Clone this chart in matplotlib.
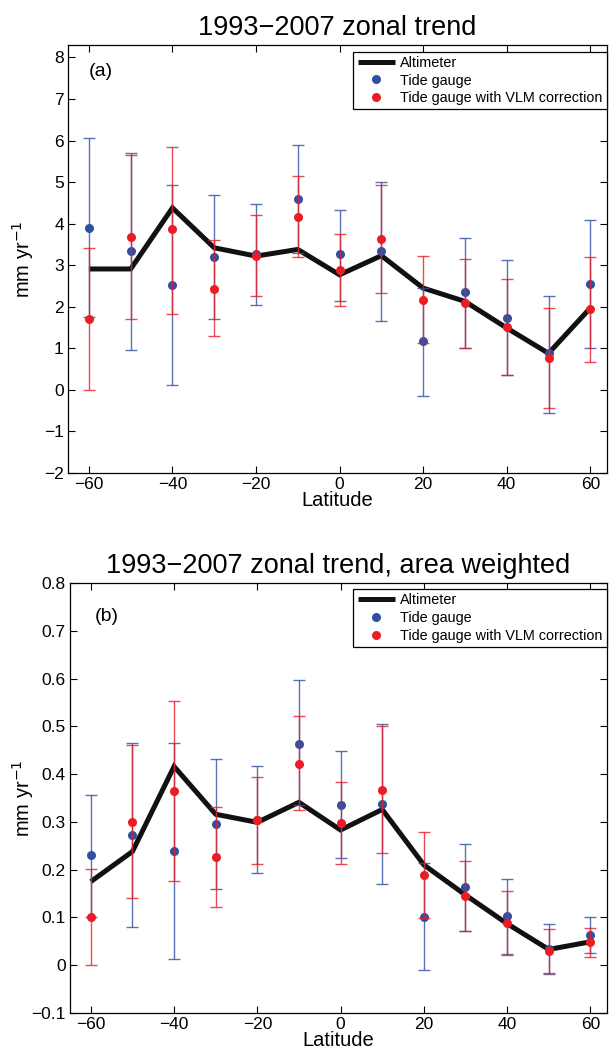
import matplotlib
matplotlib.use("Agg")
import matplotlib.pyplot as plt
from matplotlib.lines import Line2D
import numpy as np

plt.rcParams['font.family'] = ['Liberation Sans', 'DejaVu Sans']

lat = [-60, -50, -40, -30, -20, -10, 0, 10, 20, 30, 40, 50, 60]

# Panel (a): 1993-2007 zonal trend (mm/yr)
alt_a = [2.91, 2.91, 4.38, 3.42, 3.22, 3.38, 2.77, 3.23, 2.45, 2.13, 1.49, 0.88, 1.97]
tg_a = [3.90, 3.34, 2.52, 3.20, 3.27, 4.60, 3.26, 3.34, 1.17, 2.35, 1.74, 0.88, 2.56]
tg_a_hi = [6.06, 5.71, 4.93, 4.69, 4.48, 5.90, 4.34, 5.00, 2.45, 3.66, 3.12, 2.27, 4.08]
tg_a_lo = [1.75, 0.97, 0.12, 1.71, 2.05, 3.30, 2.15, 1.65, -0.14, 1.02, 0.36, -0.55, 1.02]
vlm_a = [1.70, 3.68, 3.86, 2.44, 3.23, 4.16, 2.88, 3.63, 2.17, 2.09, 1.51, 0.76, 1.95]
vlm_a_hi = [3.42, 5.65, 5.85, 3.60, 4.20, 5.15, 3.74, 4.94, 3.22, 3.16, 2.67, 1.97, 3.20]
vlm_a_lo = [0.00, 1.71, 1.83, 1.30, 2.25, 3.19, 2.03, 2.32, 1.13, 1.02, 0.35, -0.44, 0.68]

# Panel (b): area weighted
alt_b = [0.175, 0.238, 0.416, 0.316, 0.299, 0.341, 0.283, 0.326, 0.210, 0.147, 0.087, 0.033, 0.049]
tg_b = [0.231, 0.273, 0.240, 0.295, 0.305, 0.463, 0.335, 0.337, 0.101, 0.163, 0.103, 0.035, 0.063]
tg_b_hi = [0.356, 0.465, 0.466, 0.432, 0.418, 0.596, 0.449, 0.505, 0.214, 0.253, 0.180, 0.086, 0.100]
tg_b_lo = [0.101, 0.079, 0.014, 0.159, 0.194, 0.335, 0.224, 0.169, -0.009, 0.072, 0.023, -0.019, 0.026]
vlm_b = [0.101, 0.300, 0.365, 0.226, 0.303, 0.421, 0.298, 0.367, 0.189, 0.145, 0.089, 0.030, 0.049]
vlm_b_hi = [0.201, 0.460, 0.553, 0.331, 0.393, 0.521, 0.384, 0.501, 0.279, 0.219, 0.155, 0.075, 0.078]
vlm_b_lo = [0.001, 0.140, 0.176, 0.121, 0.212, 0.324, 0.211, 0.234, 0.099, 0.072, 0.022, -0.016, 0.017]

xticks = [-60, -40, -20, 0, 20, 40, 60]
yticks_a = [-2, -1, 0, 1, 2, 3, 4, 5, 6, 7, 8]
yticks_b = [-0.1, 0, 0.1, 0.2, 0.3, 0.4, 0.5, 0.6, 0.7, 0.8]
ytl_b = ['\u22120.1', '0', '0.1', '0.2', '0.3', '0.4', '0.5', '0.6', '0.7', '0.8']

BLUE = '#2f4fa2'
RED = '#ec1c24'

fig = plt.figure(figsize=(6.09, 10.48), dpi=100)
ax_a = fig.add_axes([68/609, 1-473/1048, 539/609, 428/1048])
ax_b = fig.add_axes([70/609, 1-1013/1048, 537/609, 430/1048])


def panel(ax, alt, tg, tg_hi, tg_lo, vlm, vlm_hi, vlm_lo, ylim, yticks, ytl, title,
          tag, tagpos, ylab_x, leg_top):
    x = np.array(lat, dtype=float)
    ax.plot(x, alt, color='#111111', lw=3.6, solid_joinstyle='miter',
            solid_capstyle='butt', zorder=2)
    tg = np.array(tg); vlm = np.array(vlm)
    ax.errorbar(x, tg, yerr=[tg - np.array(tg_lo), np.array(tg_hi) - tg], fmt='none',
                ecolor=BLUE, elinewidth=1.0, capsize=4.2, capthick=1.0, alpha=0.8, zorder=3)
    ax.plot(x, tg, 'o', color=BLUE, ms=6.5, mec='none', zorder=4)
    ax.errorbar(x, vlm, yerr=[vlm - np.array(vlm_lo), np.array(vlm_hi) - vlm], fmt='none',
                ecolor=RED, elinewidth=1.0, capsize=4.2, capthick=1.0, alpha=0.8, zorder=5)
    ax.plot(x, vlm, 'o', color=RED, ms=6.5, mec='none', zorder=6)
    ax.set_xlim(-65, 64)
    ax.set_ylim(*ylim)
    ax.set_xticks(xticks)
    ax.set_xticklabels([str(v).replace('-', '\u2212') for v in xticks])
    ax.set_yticks(yticks)
    ax.set_yticklabels(ytl)
    ax.tick_params(direction='in', top=True, right=True, length=5, width=0.8,
                   labelsize=12.5, pad=3)
    for s in ax.spines.values():
        s.set_linewidth(0.9)
    ax.set_xlabel('Latitude', fontsize=14.5, labelpad=-1)
    ax.set_ylabel('mm yr$^{-1}$', fontsize=14.5)
    ax.yaxis.set_label_coords(ylab_x, 0.5)
    ax.set_title(title, fontsize=19.5, pad=7)
    ax.text(tagpos[0], tagpos[1], tag, transform=ax.transAxes, fontsize=14,
            ha='left', va='center')
    handles = [Line2D([], [], color='#111111', lw=3.6, solid_capstyle='butt'),
               Line2D([], [], ls='none', marker='o', color=BLUE, ms=6.5, mec='none'),
               Line2D([], [], ls='none', marker='o', color=RED, ms=6.5, mec='none')]
    leg = ax.legend(handles, ['Altimeter', 'Tide gauge', 'Tide gauge with VLM correction'],
                    loc='upper right', bbox_to_anchor=(1.0, leg_top), fontsize=10.4,
                    frameon=True, fancybox=False, edgecolor='black', framealpha=1,
                    borderpad=0.3, labelspacing=0.25, handlelength=2.55,
                    handletextpad=0.4, borderaxespad=0.0)
    leg.get_frame().set_linewidth(0.9)


panel(ax_a, alt_a, tg_a, tg_a_hi, tg_a_lo, vlm_a, vlm_a_hi, vlm_a_lo,
      (-2, 8.3), yticks_a, [str(v).replace('-', '\u2212') for v in yticks_a],
      '1993\u22122007 zonal trend', '(a)', (0.038, 0.937), -0.060, 1 - 6.6/428)
panel(ax_b, alt_b, tg_b, tg_b_hi, tg_b_lo, vlm_b, vlm_b_hi, vlm_b_lo,
      (-0.1, 0.8), yticks_b, ytl_b,
      '1993\u22122007 zonal trend, area weighted', '(b)', (0.046, 0.923), -0.064, 1 - 6/430)

fig.savefig('out.png', dpi=100)
